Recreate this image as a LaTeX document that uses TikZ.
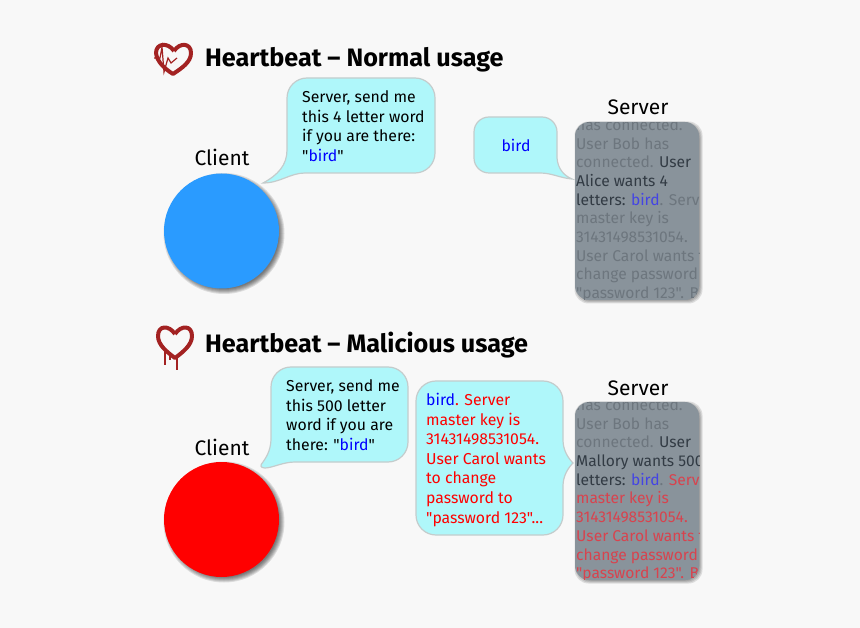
\documentclass[tikz,border=0pt]{standalone}
\usepackage{fontspec}
\setmainfont{Fira Sans}[Ligatures=TeXOff]

\definecolor{pagegray}{HTML}{F8F8F8}
\definecolor{bubblecyan}{HTML}{AFF7FA}
\definecolor{bubbleedge}{HTML}{C4CCCC}
\definecolor{heartred}{HTML}{A32222}
\definecolor{boxgray}{HTML}{89939B}
\definecolor{dimtext}{HTML}{6D767E}
\definecolor{darktext}{HTML}{323B44}
\definecolor{boxblue}{HTML}{4444E4}
\definecolor{boxred}{HTML}{D8434E}

\newcommand{\bluebird}{\textcolor{blue}{bird}}
\newcommand{\bubblefont}{\fontsize{15.8}{19.6}\selectfont}
\newcommand{\logfont}{\fontsize{15.6}{18.7}\selectfont}

\begin{document}
\begin{tikzpicture}[x=1pt,y=-1pt,
                    title/.style={inner sep=0pt,anchor=west,font=\fontsize{25.2}{28}\selectfont\bfseries},
                    peer/.style={inner sep=0pt,font=\fontsize{21}{24}\selectfont},
                    bubble/.style={fill=bubblecyan,draw=bubbleedge,line width=1.2pt},
                    saying/.style={inner sep=0pt,anchor=north west,align=left,font=\bubblefont},
                    logtext/.style={inner sep=0pt,anchor=north west,align=left,font=\logfont,text=dimtext},
                    client/.style={circle,minimum size=115pt,inner sep=0pt},
                    softshadow/.style={black,opacity=.11},
                    heart/.style={draw=heartred,line width=4pt,line join=round}]

  \useasboundingbox[fill=pagegray] (0,0) rectangle (860,628);

  % normal usage
  \draw[heart] (174,51) .. controls (180,42) and (191,43) .. (191,53)
    .. controls (191,62) and (182,68) .. (173,74)
    .. controls (165,69) and (157,62) .. (156,53)
    .. controls (156,43) and (168,42) .. (174,51);
  \draw[heartred,line width=1.2pt] (154,58) -- (160,58) -- (162,47) -- (164,72)
    -- (168,58) -- (171,63) -- (177,58);
  \node[title] (normaltitle) at (205,60) {Heartbeat – Normal usage};

  \node[peer] (clientA) at (222,157) {Client};
  \foreach \grow in {3,2,1,0,-1,-2}
    \fill[softshadow] (224,233.5) circle[radius=57.5+\grow];
  \node[client,fill={rgb,255:red,42;green,155;blue,255}] (circleA) at (221.5,231) {};

  \draw[bubble] (307,78) -- (415,78) arc[start angle=-90,end angle=0,radius=20]
    -- (435,153) arc[start angle=0,end angle=90,radius=20]
    -- (305,173) .. controls (290,173) and (280,183) .. (263,183)
    .. controls (278,175) and (287,165) .. (287,150)
    -- (287,98) arc[start angle=180,end angle=270,radius=20] -- cycle;
  \node[saying] (askA) at (302,90.5) {Server, send me\\this 4 letter word\\if you are there:\\"\bluebird"};

  \draw[bubble] (489,117) -- (542,117) arc[start angle=-90,end angle=0,radius=15]
    -- (557,158) .. controls (558,170) and (565,176) .. (572,179)
    .. controls (560,178) and (552,173) .. (540,173)
    -- (489,173) arc[start angle=90,end angle=180,radius=15]
    -- (474,132) arc[start angle=180,end angle=270,radius=15] -- cycle;
  \node[inner sep=0pt,font=\bubblefont] (replyA) at (516,145) {\bluebird};

  \node[peer] (serverA) at (638,107) {Server};
  \foreach \grow in {2,1,0,-1,-2}
    \fill[softshadow,rounded corners=14pt] (576.5-\grow,123.5-\grow) rectangle (700.5+\grow,301.5+\grow);
  \fill[boxgray,rounded corners=14pt] (575,122) rectangle (699,300);
  \begin{scope}
    \clip[rounded corners=14pt] (575,122) rectangle (699,300);
    \node[logtext] (logA) at (576,118.5) {has connected.\\User Bob has\\connected. \textcolor{darktext}{User}\\\textcolor{darktext}{Alice wants 4}\\\textcolor{darktext}{letters:} \textcolor{boxblue}{bird}. Server\\master key is\\31431498531054.\\User Carol wants to\\change password to\\"password 123". Bob};
  \end{scope}

  % malicious usage
  \draw[heart] (175,334) .. controls (181,325) and (192,325) .. (192,336)
    .. controls (192,345) and (183,352) .. (175,358)
    .. controls (167,352) and (158,345) .. (158,336)
    .. controls (158,325) and (169,325) .. (175,334);
  \draw[heartred,line width=1.5pt] (165,350) -- (165,365);
  \draw[heartred,line width=1.5pt] (177,356) -- (177,370);
  \draw[heartred,line width=2.5pt] (170,354) -- (170,360);
  \node[title] (malicioustitle) at (205,345) {Heartbeat – Malicious usage};

  \node[peer] (clientB) at (222,447) {Client};
  \foreach \grow in {3,2,1,0,-1,-2}
    \fill[softshadow] (224,522) circle[radius=57.5+\grow];
  \node[client,fill=red] (circleB) at (221.5,519.5) {};

  \draw[bubble] (291,367) -- (388,367) arc[start angle=-90,end angle=0,radius=20]
    -- (408,442) arc[start angle=0,end angle=90,radius=20]
    -- (295,462) .. controls (283,462) and (272,468) .. (265,468)
    .. controls (260,468) and (260,465) .. (263,462)
    .. controls (268,455) and (271,448) .. (271,438)
    -- (271,387) arc[start angle=180,end angle=270,radius=20] -- cycle;
  \node[saying] (askB) at (286,379.5) {Server, send me\\this 500 letter\\word if you are\\there: "\bluebird"};

  \draw[bubble] (436,381) -- (543,381) arc[start angle=-90,end angle=0,radius=20]
    -- (563,440) .. controls (563,450) and (568,458) .. (573,463)
    .. controls (568,468) and (563,476) .. (563,486)
    -- (563,515) arc[start angle=0,end angle=90,radius=20]
    -- (436,535) arc[start angle=90,end angle=180,radius=20]
    -- (416,401) arc[start angle=180,end angle=270,radius=20] -- cycle;
  \node[saying,text=red] (replyB) at (426,393) {\bluebird. Server\\master key is\\31431498531054.\\User Carol wants\\to change\\password to\\"password 123"...};

  \node[peer] (serverB) at (638,388) {Server};
  \foreach \grow in {2,1,0,-1,-2}
    \fill[softshadow,rounded corners=14pt] (576.5-\grow,403.5-\grow) rectangle (700.5+\grow,581.5+\grow);
  \fill[boxgray,rounded corners=14pt] (575,402) rectangle (699,580);
  \begin{scope}
    \clip[rounded corners=14pt] (575,402) rectangle (699,580);
    \node[logtext] (logB) at (576,398.5) {has connected.\\User Bob has\\connected. \textcolor{darktext}{User}\\\textcolor{darktext}{Mallory wants 500}\\\textcolor{darktext}{letters:} \textcolor{boxblue}{bird}. \textcolor{boxred}{Server}\\\textcolor{boxred}{master key is}\\\textcolor{boxred}{31431498531054.}\\\textcolor{boxred}{User Carol wants to}\\\textcolor{boxred}{change password to}\\\textcolor{boxred}{"password 123". Bob}};
  \end{scope}
\end{tikzpicture}
\end{document}
